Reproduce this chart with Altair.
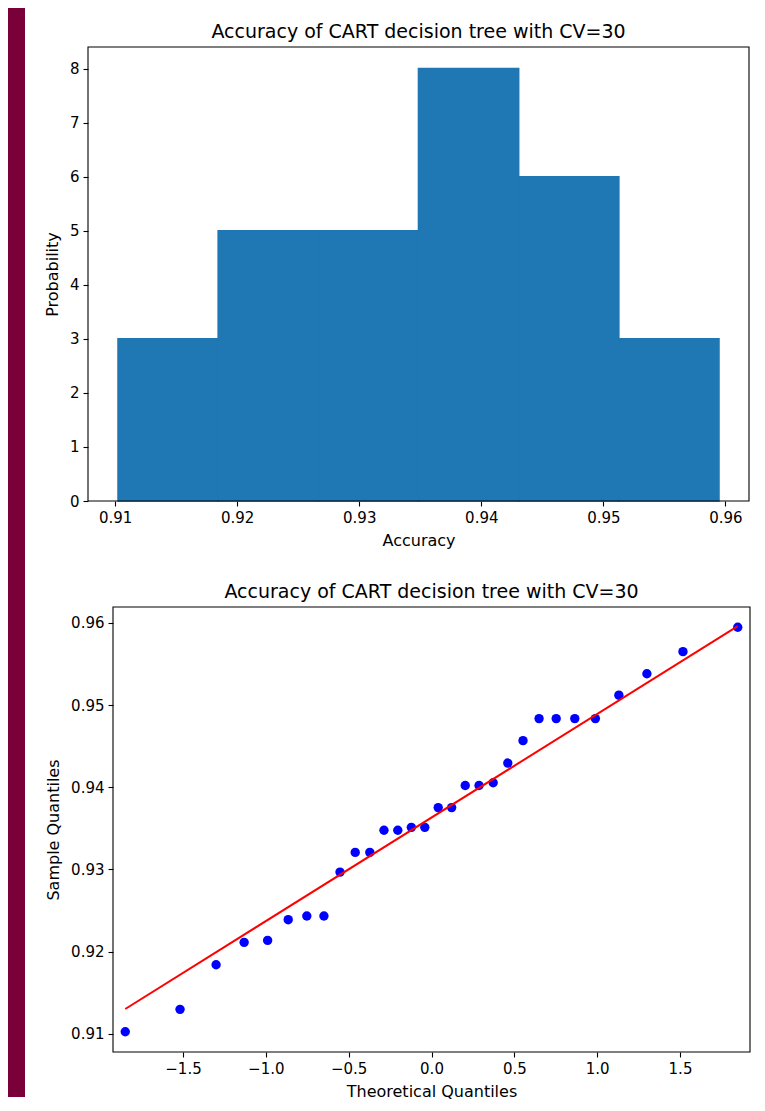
import altair as alt
import numpy as np
import pandas as pd

# ---------------- data ----------------
accuracy = [0.91024, 0.91297, 0.91839, 0.92112, 0.92136, 0.92388, 0.92433, 0.92433,
            0.92967, 0.93207, 0.93207, 0.93476, 0.93476, 0.93512, 0.93512, 0.93752,
            0.93752, 0.94021, 0.94021, 0.94054, 0.94294, 0.94567, 0.94835, 0.94835,
            0.94835, 0.94835, 0.95120, 0.95381, 0.95650, 0.95947]

theoretical = [-1.8486, -1.5179, -1.3002, -1.1310, -0.9892, -0.8649, -0.7527, -0.6493,
               -0.5524, -0.4605, -0.3723, -0.2869, -0.2035, -0.1216, -0.0404,
               0.0404, 0.1216, 0.2035, 0.2869, 0.3723, 0.4605, 0.5524, 0.6493,
               0.7527, 0.8649, 0.9892, 1.1310, 1.3002, 1.5179, 1.8486]

titles = ["Accuracy of CART decision tree with CV=30"]
hist_x_ticks = [0.91, 0.92, 0.93, 0.94, 0.95, 0.96]
hist_y_ticks = [0, 1, 2, 3, 4, 5, 6, 7, 8]
qq_x_ticks = [-1.5, -1.0, -0.5, 0.0, 0.5, 1.0, 1.5]
qq_y_ticks = [0.91, 0.92, 0.93, 0.94, 0.95, 0.96]
n_bins = 6

FONT = "DejaVu Sans"
MAROON = "#7a0039"

acc = np.array(accuracy)
counts, edges = np.histogram(acc, bins=n_bins)
hist_df = pd.DataFrame({"x0": edges[:-1], "x1": edges[1:], "count": counts})

rng = acc.max() - acc.min()
acc_dom = [acc.min() - 0.05 * rng, acc.max() + 0.05 * rng]

q = np.array(theoretical)
qrng = q.max() - q.min()
q_dom = [q.min() - 0.02 * qrng, q.max() + 0.02 * qrng]

qq_df = pd.DataFrame({"q": q, "s": np.sort(acc)})
m, b = acc.std(), acc.mean()
line_df = pd.DataFrame({"q": [q[0], q[-1]], "s": [b + m * q[0], b + m * q[-1]]})

one = pd.DataFrame({"t": titles})

# ---------------- top: histogram ----------------
wA, hA = 661, 454
stripA = alt.Chart(one).mark_rect(color=MAROON).encode(
    x=alt.value(-80), x2=alt.value(-63), y=alt.value(-39), y2=alt.value(513))
bars = alt.Chart(hist_df).mark_rect(color="#1f77b4", stroke="#1f77b4", strokeWidth=1.6).encode(
    x=alt.X("x0:Q", scale=alt.Scale(domain=acc_dom, nice=False, zero=False),
            axis=alt.Axis(title="Accuracy", values=hist_x_ticks, format=".2f", titlePadding=7)),
    x2="x1:Q",
    y=alt.Y("count:Q", scale=alt.Scale(domain=[0, 8.4], nice=False),
            axis=alt.Axis(title="Probability", values=hist_y_ticks, format="d", titlePadding=9)),
    y2=alt.datum(0),
)
frameA = alt.Chart(one).mark_rect(fillOpacity=0, stroke="black", strokeWidth=1.1).encode(
    x=alt.value(0), x2=alt.value(wA), y=alt.value(0), y2=alt.value(hA))
titleA = alt.Chart(one).mark_text(font=FONT, fontSize=19, align="center",
                                  baseline="alphabetic", color="black").encode(
    text="t:N", x=alt.value(wA / 2), y=alt.value(-9.5))
top = alt.layer(stripA, bars, frameA, titleA).properties(width=wA, height=hA)

# ---------------- bottom: QQ plot ----------------
wB, hB = 662, 445
x0B = 25
stripB = alt.Chart(one).mark_rect(color=MAROON).encode(
    x=alt.value(-80), x2=alt.value(-63), y=alt.value(-47), y2=alt.value(490))
xq = alt.X("q:Q", scale=alt.Scale(domain=q_dom, range=[x0B, wB], nice=False, zero=False),
           axis=alt.Axis(title="Theoretical Quantiles", values=qq_x_ticks, format=".1f", titlePadding=7))
ys = alt.Y("s:Q", scale=alt.Scale(domain=acc_dom, nice=False, zero=False),
           axis=alt.Axis(title="Sample Quantiles", values=qq_y_ticks, format=".2f",
                         titlePadding=9, offset=-x0B))
pts = alt.Chart(qq_df).mark_circle(color="#0000ff", size=88, opacity=1).encode(x=xq, y=ys)
fit = alt.Chart(line_df).mark_line(color="#ff0000", strokeWidth=2).encode(x=xq, y=ys)
frameB = alt.Chart(one).mark_rect(fillOpacity=0, stroke="black", strokeWidth=1.1).encode(
    x=alt.value(x0B), x2=alt.value(wB), y=alt.value(0), y2=alt.value(hB))
titleB = alt.Chart(one).mark_text(font=FONT, fontSize=19, align="center",
                                  baseline="alphabetic", color="black").encode(
    text="t:N", x=alt.value((x0B + wB) / 2), y=alt.value(-9.5))
bottom = alt.layer(stripB, pts, fit, frameB, titleB).properties(width=wB, height=hB)

chart = alt.vconcat(top, bottom, spacing=0).configure(
    background="white",
    padding={"left": 0, "top": 0, "right": 0, "bottom": 0},
    font=FONT,
).configure_view(strokeWidth=0).configure_axis(
    domain=False, grid=False,
    tickColor="black", tickSize=5, tickWidth=1.1,
    labelFont=FONT, labelFontSize=15, labelColor="black", labelPadding=4,
    labelFlush=False, labelOverlap=False,
    titleFont=FONT, titleFontSize=16, titleFontWeight="normal", titleColor="black",
)

chart.save("out.html", embed_options={"renderer": "svg", "actions": False})
